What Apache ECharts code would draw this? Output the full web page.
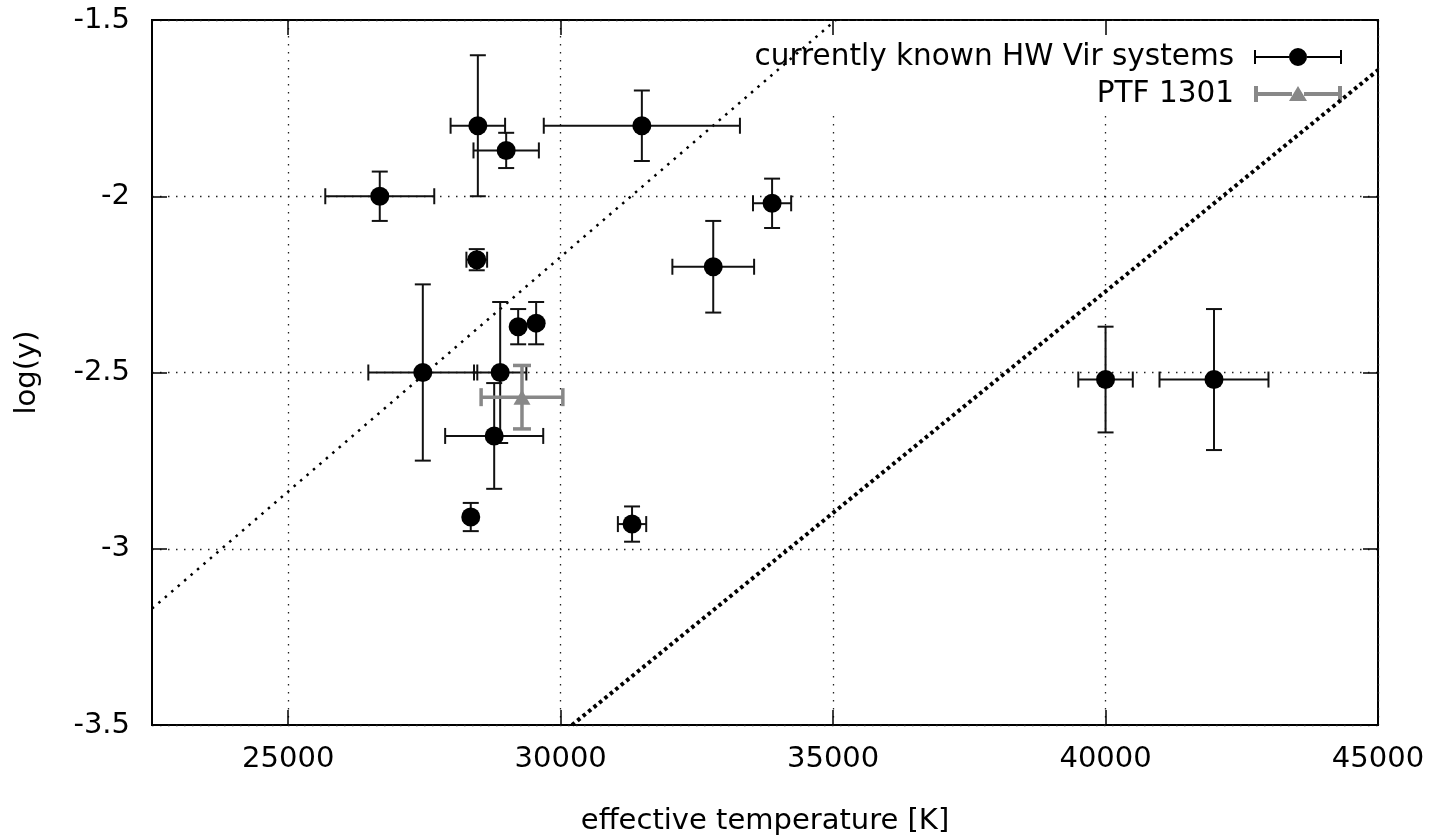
<!DOCTYPE html>
<html>
<head>
<meta charset="utf-8">
<script src="https://cdn.jsdelivr.net/npm/echarts@6/dist/echarts.min.js"></script>
<style>
html,body{margin:0;padding:0;background:#fff;}
#chart{width:1448px;height:839px;}
</style>
</head>
<body>
<div id="chart"></div>
<script>
// ---- data ----
const knownName = 'currently known HW Vir systems';
const knownTeff    = [26680, 28480, 29000, 31490, 33880, 28460, 32800, 27470, 28890, 28780, 29220, 29550, 28350, 31310, 40000, 41990];
const knownLogY    = [-2.00, -1.80, -1.87, -1.80, -2.02, -2.18, -2.20, -2.50, -2.50, -2.68, -2.37, -2.36, -2.91, -2.93, -2.52, -2.52];
const knownTeffErr = [1000, 500, 600, 1800, 350, 190, 750, 1000, 480, 900, 0, 0, 0, 260, 500, 1000];
const knownLogYErr = [0.07, 0.20, 0.05, 0.10, 0.07, 0.03, 0.13, 0.25, 0.20, 0.15, 0.05, 0.06, 0.04, 0.05, 0.15, 0.20];

const ptfName = 'PTF 1301';
const ptfTeff    = [29290];
const ptfLogY    = [-2.57];
const ptfTeffErr = [750];
const ptfLogYErr = [0.09];

const thinLineTeff  = [22500, 35050];
const thinLineLogY  = [-3.17, -1.50];
const thickLineTeff = [30208, 45000];
const thickLineLogY = [-3.50, -1.642];

const xTickValues = [25000, 30000, 35000, 40000, 45000];

// ---- helpers ----
const FONT = 'DejaVu Sans';
function zip(a, b, c, d) { return a.map((v, i) => [v, b[i], c[i], d[i]]); }
function zip2(a, b) { return a.map((v, i) => [v, b[i]]); }

function errRenderer(color, lw, capX, capY) {
  return function (params, api) {
    const x = api.value(0), y = api.value(1), ex = api.value(2), ey = api.value(3);
    const c = api.coord([x, y]);
    const st = { stroke: color, lineWidth: lw, fill: null };
    const ch = [];
    if (ex > 0) {
      const l = api.coord([x - ex, y]), r = api.coord([x + ex, y]);
      ch.push({ type: 'line', shape: { x1: l[0], y1: c[1], x2: r[0], y2: c[1] }, style: st });
      ch.push({ type: 'line', shape: { x1: l[0], y1: c[1] - capX, x2: l[0], y2: c[1] + capX }, style: st });
      ch.push({ type: 'line', shape: { x1: r[0], y1: c[1] - capX, x2: r[0], y2: c[1] + capX }, style: st });
    }
    if (ey > 0) {
      const t = api.coord([x, y + ey]), b = api.coord([x, y - ey]);
      ch.push({ type: 'line', shape: { x1: c[0], y1: t[1], x2: c[0], y2: b[1] }, style: st });
      ch.push({ type: 'line', shape: { x1: c[0] - capY, y1: t[1], x2: c[0] + capY, y2: t[1] }, style: st });
      ch.push({ type: 'line', shape: { x1: c[0] - capY, y1: b[1], x2: c[0] + capY, y2: b[1] }, style: st });
    }
    return { type: 'group', children: ch };
  };
}

const knownIcon = 'path://M0,0 M103,20 M15,9 H50 V11 H15 Z M68,9 H103 V11 H68 Z M15,3 H17 V17 H15 Z M101,3 H103 V17 H101 Z M50,10 A9,9 0 1,0 68,10 A9,9 0 1,0 50,10 Z';
const ptfIcon = 'path://M0,0 M103,20 M15,8 H53 V12 H15 Z M65,8 H103 V12 H65 Z M15,2 H19 V18 H15 Z M99,2 H103 V18 H99 Z M50,17 L59,2 L68,17 Z';

const gridDots = { color: '#222', width: 1.3, type: [1.5, 6.5] };

const chart = echarts.init(document.getElementById('chart'), null, { renderer: 'canvas' });
chart.setOption({
  animation: false,
  backgroundColor: '#fff',
  textStyle: { fontFamily: FONT },
  grid: {
    left: 152, right: 70, top: 20, bottom: 114,
    show: true, borderColor: '#000', borderWidth: 2, backgroundColor: 'transparent',
    containLabel: false, outerBoundsMode: 'none'
  },
  legend: [
    {
      data: [{ name: knownName, icon: knownIcon }],
      orient: 'vertical', align: 'right', right: 76, top: 21,
      padding: [21, 30, 40, 40],
      backgroundColor: '#fff', z: 1, selectedMode: false,
      itemWidth: 103, itemHeight: 20,
      itemStyle: { borderWidth: 0, opacity: 1 },
      textStyle: { fontFamily: FONT, fontSize: 29.5, color: '#000' }
    },
    {
      data: [{ name: ptfName, icon: ptfIcon }],
      orient: 'vertical', align: 'right', right: 76, top: 79,
      padding: [0, 30, 0, 0], z: 1, selectedMode: false,
      itemWidth: 103, itemHeight: 20,
      itemStyle: { borderWidth: 0, opacity: 1 },
      textStyle: { fontFamily: FONT, fontSize: 29.5, color: '#000' }
    }
  ],
  xAxis: [
    {
      type: 'value', min: 22500, max: 45000, position: 'bottom',
      name: 'effective temperature [K]', nameLocation: 'middle', nameGap: 82,
      nameTextStyle: { fontFamily: FONT, fontSize: 29, color: '#000' },
      axisLine: { show: false },
      axisTick: { show: true, inside: true, length: 15, lineStyle: { color: '#000', width: 1.5 }, customValues: xTickValues },
      axisLabel: { show: true, margin: 20, fontFamily: FONT, fontSize: 29, color: '#000', customValues: xTickValues, formatter: v => String(v) },
      splitLine: { show: true, lineStyle: gridDots }
    },
    {
      type: 'value', min: 22500, max: 45000, position: 'top', z: 3,
      axisLine: { show: false },
      axisTick: { show: true, inside: true, length: 15, lineStyle: { color: '#000', width: 1.5 }, customValues: xTickValues },
      axisLabel: { show: false },
      splitLine: { show: false }
    }
  ],
  yAxis: [
    {
      type: 'value', min: -3.5, max: -1.5, interval: 0.5, position: 'left',
      name: 'log(y)', nameLocation: 'middle', nameGap: 110,
      nameTextStyle: { fontFamily: FONT, fontSize: 29, color: '#000' },
      axisLine: { show: false },
      axisTick: { show: true, inside: true, length: 15, lineStyle: { color: '#000', width: 1.5 } },
      axisLabel: { show: true, margin: 22, fontFamily: FONT, fontSize: 29, color: '#000', formatter: v => String(v) },
      splitLine: { show: true, lineStyle: gridDots }
    },
    {
      type: 'value', min: -3.5, max: -1.5, interval: 0.5, position: 'right', z: 3,
      axisLine: { show: false },
      axisTick: { show: true, inside: true, length: 15, lineStyle: { color: '#000', width: 1.5 } },
      axisLabel: { show: false },
      splitLine: { show: false }
    }
  ],
  series: [
    {
      type: 'line', name: 'thin', silent: true, symbol: 'none', showSymbol: false, z: 2,
      xAxisIndex: 0, yAxisIndex: 0, clip: true,
      data: zip2(thinLineTeff, thinLineLogY),
      lineStyle: { color: '#000', width: 2.5, type: [2.5, 6], opacity: 1 }
    },
    {
      type: 'line', name: 'thick', silent: true, symbol: 'none', showSymbol: false, z: 2,
      xAxisIndex: 0, yAxisIndex: 0, clip: true,
      data: zip2(thickLineTeff, thickLineLogY),
      lineStyle: { color: '#000', width: 4, type: [3.5, 3.5], opacity: 1 }
    },
    {
      type: 'scatter', name: knownName, xAxisIndex: 0, yAxisIndex: 0, z: 4,
      symbol: 'circle', symbolSize: 19, itemStyle: { color: '#000', opacity: 1 }, silent: true,
      data: zip2(knownTeff, knownLogY)
    },
    {
      type: 'custom', name: knownName, xAxisIndex: 0, yAxisIndex: 0, z: 3, silent: true,
      itemStyle: { color: '#000', opacity: 1 }, clip: true,
      renderItem: errRenderer('#111', 2, 8, 8),
      encode: { x: 0, y: 1 },
      data: zip(knownTeff, knownLogY, knownTeffErr, knownLogYErr)
    },
    {
      type: 'scatter', name: ptfName, xAxisIndex: 0, yAxisIndex: 0, z: 4,
      symbol: 'triangle', symbolSize: [17, 15], itemStyle: { color: '#888', opacity: 1 }, silent: true,
      data: zip2(ptfTeff, ptfLogY)
    },
    {
      type: 'custom', name: ptfName, xAxisIndex: 0, yAxisIndex: 0, z: 3, silent: true,
      itemStyle: { color: '#888', opacity: 1 }, clip: true,
      renderItem: errRenderer('#888', 3.5, 9, 9),
      encode: { x: 0, y: 1 },
      data: zip(ptfTeff, ptfLogY, ptfTeffErr, ptfLogYErr)
    }
  ]
});
</script>
</body>
</html>
